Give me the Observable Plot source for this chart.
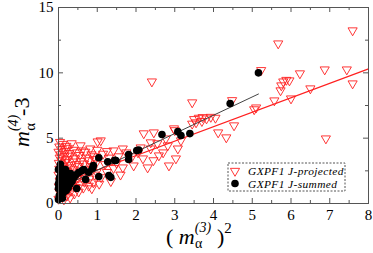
<!DOCTYPE html>
<html>
<head>
<meta charset="utf-8">
<script src="https://cdn.jsdelivr.net/npm/d3@7"></script>
<script src="https://cdn.jsdelivr.net/npm/@observablehq/plot@0.6"></script>
<style>
  html, body { margin: 0; padding: 0; background: #fff; }
  #chart { width: 373px; height: 253px; }
</style>
</head>
<body>
<div id="chart"></div>
<script>
// ---- data ----
const seriesNames = ["GXPF1 J-projected", "GXPF1 J-summed"];
const xTicks = [0, 1, 2, 3, 4, 5, 6, 7, 8];
const xMinor = [0.5, 1.5, 2.5, 3.5, 4.5, 5.5, 6.5, 7.5];
const yTicks = [0, 5, 10, 15];
const yMinor = [2.5, 7.5, 12.5];

// J-projected (red open triangles): [x, y]
const projected = [
  [7.59,13.24],[5.67,12.24],[2.41,9.33],[5.23,10.2],[6.23,9.95],[6.87,10.25],[7.44,10.25],[7.59,9.18],
  [5.80,9.33],[5.88,9.45],[5.96,9.41],[5.75,9.03],[5.73,8.65],[6.50,8.80],[6.0,8.03],[5.57,7.88],
  [5.10,7.34],[5.05,7.2],[6.9,4.97],[3.45,7.73],[4.48,7.9],[4.53,5.97],[3.5,6.45],[3.62,6.55],
  [3.72,6.6],[3.82,6.5],[3.93,6.62],[4.05,6.55],[3.55,6.2],[3.7,6.3],[3.45,6.1],[4.12,5.43],
  [4.33,5.05],[2.98,5.74],[3.0,5.6],[2.46,5.43],[2.2,5.36],[3.16,4.82],[2.77,4.97],[2.38,4.67],
  [2.55,4.6],[2.82,4.44],[3.08,4.2],[2.7,3.9],[2.38,4.2],[2.12,4.28],[1.66,4.2],[1.42,4.05],
  [1.25,4.0],[1.09,4.82],[2.18,3.44],[2.59,3.67],[2.45,3.3],[3.03,3.44],[2.3,2.75],[2.85,2.9],
  [1.94,2.9],[1.66,2.75],[1.42,2.7],[1.9,3.6],[1.75,3.9],[2.05,3.9],[1.55,3.6],[1.3,3.5],
  [1.15,3.8],[0.57,4.44],[1.01,4.74],[1.5,3.1],[1.25,2.4],[1.6,2.2],[1.1,2.0],[1.35,1.7],
  [1.05,1.5],[1.2,3.0],[0.95,3.4],
  [0.0,0.35],[0.02,0.9],[0.01,1.3],[0.03,1.75],[0.0,2.2],[0.02,2.65],[0.01,3.1],[0.03,3.5],
  [0.0,3.95],[0.02,4.35],[0.04,4.7],[0.07,0.55],[0.08,1.1],[0.06,1.55],[0.09,2.0],[0.07,2.4],
  [0.1,2.85],[0.08,3.3],[0.06,3.75],[0.09,4.15],[0.11,4.55],[0.14,0.3],[0.15,0.8],[0.17,1.35],
  [0.13,1.85],[0.16,2.25],[0.14,2.7],[0.18,3.15],[0.15,3.6],[0.17,4.0],[0.2,4.4],[0.22,0.6],
  [0.24,1.05],[0.21,1.6],[0.25,2.05],[0.23,2.5],[0.26,2.95],[0.22,3.4],[0.27,3.85],[0.24,4.25],
  [0.3,0.45],[0.32,0.95],[0.34,1.4],[0.31,1.9],[0.35,2.35],[0.33,2.75],[0.36,3.2],[0.3,3.65],
  [0.38,4.1],[0.34,4.6],[0.41,0.75],[0.44,1.25],[0.42,1.7],[0.46,2.15],[0.4,2.6],[0.45,3.0],
  [0.43,3.45],[0.48,3.9],[0.52,0.9],[0.55,1.45],[0.5,1.95],[0.57,2.4],[0.53,2.85],[0.58,3.25],
  [0.55,3.7],[0.6,4.05],[0.64,1.2],[0.67,1.65],[0.63,2.15],[0.7,2.6],[0.66,3.05],[0.72,3.5],
  [0.69,3.95],[0.78,1.35],[0.8,1.9],[0.76,2.35],[0.83,2.85],[0.79,3.3],[0.85,3.75],[0.82,4.2],
  [0.9,1.6],[0.93,2.2],[0.88,2.6],[0.96,3.05],[0.92,3.6],[1.0,4.1],[0.98,2.4],[0.86,1.15]
];

// J-summed (black filled circles): [x, y]
const summed = [
  [5.16,10.0],[4.43,7.65],[3.08,5.5],[3.16,5.2],[3.39,5.35],[2.67,5.28],[2.07,4.1],[2.02,4.05],
  [1.81,3.75],[1.81,3.37],[1.48,3.29],[1.27,3.2],[1.04,3.5],[1.45,3.3],[1.35,2.0],[1.04,2.07],
  [1.3,2.14],[0.88,2.7],[0.78,2.4],[0.7,1.84],[0.52,2.37],[0.47,1.15],[0.31,2.3],[0.6,2.5],
  [0.4,2.0],[0.35,1.7],[0.25,1.5],[0.2,2.0],[0.15,1.2],[0.1,1.76],[0.08,2.5],[0.05,1.0],
  [0.02,0.6],[0.0,1.15],[0.0,1.5],[0.03,2.0],[0.12,0.8],[0.2,1.0],[0.28,1.9],[0.45,2.2],
  [0.65,2.6],[0.9,2.9],[0.05,3.0],[0.0,2.6],[0.18,2.6],[0.1,0.4],[0.02,1.8],[0.06,2.3],
  [0.08,1.4],[0.15,1.7],[0.22,2.3],[0.05,2.8],[0.12,2.2],[0.25,1.2],[0.3,1.5],[0.0,0.3]
];

// fitted lines (endpoints)
const fitProjectedX = [0, 8];
const fitProjectedY = [1.45, 10.3];
const fitSummedX = [0, 5.16];
const fitSummedY = [1.15, 8.38];

// ---- build ----
const fitProjected = fitProjectedX.map((x, i) => ({x, y: fitProjectedY[i]}));
const fitSummed = fitSummedX.map((x, i) => ({x, y: fitSummedY[i]}));

const triDown = {
  draw(ctx, size) {
    const y = Math.sqrt(size / (Math.sqrt(3) * 3));
    const s3 = Math.sqrt(3);
    ctx.moveTo(0, 2 * y);
    ctx.lineTo(-s3 * y, -y);
    ctx.lineTo(s3 * y, -y);
    ctx.closePath();
  }
};

const W = 373, H = 253;
const mL = 58, mR = 5, mT = 7, mB = 50;
const fw = W - mL - mR, fh = H - mT - mB;
const tickCol = "#555";
const major = 5, minor = 3;
const red = "#ff2020";

const chart = Plot.plot({
  width: W,
  height: H,
  marginLeft: mL,
  marginRight: mR,
  marginTop: mT,
  marginBottom: mB,
  style: {fontFamily: "'Liberation Serif', 'DejaVu Serif', serif", fontSize: "15px", background: "#fff", color: "#000"},
  x: {domain: [0, 8]},
  y: {domain: [0, 15]},
  marks: [
    // tick labels
    Plot.axisX({ticks: xTicks, tickSize: 0, tickPadding: 6, label: null, tickFormat: d3.format("d"), fill: "#000"}),
    Plot.axisY({ticks: yTicks, tickSize: 0, tickPadding: 5, label: null, tickFormat: d3.format("d"), fill: "#000"}),
    // inward ticks on all four sides
    Plot.ruleX(xTicks, {x: d => d, insetTop: fh - major, stroke: tickCol}),
    Plot.ruleX(xMinor, {x: d => d, insetTop: fh - minor, stroke: tickCol}),
    Plot.ruleX(xTicks, {x: d => d, insetBottom: fh - major, stroke: tickCol}),
    Plot.ruleX(xMinor, {x: d => d, insetBottom: fh - minor, stroke: tickCol}),
    Plot.ruleY(yTicks, {y: d => d, insetRight: fw - major, stroke: tickCol}),
    Plot.ruleY(yMinor, {y: d => d, insetRight: fw - minor, stroke: tickCol}),
    Plot.ruleY(yTicks, {y: d => d, insetLeft: fw - major, stroke: tickCol}),
    Plot.ruleY(yMinor, {y: d => d, insetLeft: fw - minor, stroke: tickCol}),
    // data
    Plot.dot(projected, {x: d => d[0], y: d => d[1], symbol: triDown, r: 3.4, stroke: red, strokeWidth: 0.9, fill: "none"}),
    Plot.line(fitProjected, {x: "x", y: "y", stroke: red, strokeWidth: 1.2}),
    Plot.line(fitSummed, {x: "x", y: "y", stroke: "#444", strokeWidth: 1}),
    Plot.dot(summed, {x: d => d[0], y: d => d[1], r: 3.8, fill: "#000", stroke: "none"}),
    Plot.frame({stroke: tickCol, strokeWidth: 1})
  ]
});

document.getElementById("chart").appendChild(chart);

// ---- axis titles & legend added into the same SVG ----
const svg = d3.select(chart);
const serif = "'Liberation Serif', 'DejaVu Serif', serif";

// y title: m^(4)_alpha - 3, rotated
const yt = svg.append("text")
  .attr("transform", "translate(29,147) rotate(-90)")
  .attr("text-anchor", "start")
  .attr("font-family", serif).attr("font-size", 22).attr("fill", "#000");
yt.append("tspan").attr("font-style", "italic").text("m");
yt.append("tspan").attr("font-size", 14).attr("font-style", "italic").attr("dy", -11).text("(4)");
yt.append("tspan").attr("font-size", 15).attr("dx", -16).attr("dy", 17).text("α");
yt.append("tspan").attr("dx", 7).attr("dy", -6).text("-3");

// x title: ( m^(3)_alpha )^2
const xt = svg.append("text")
  .attr("x", 166).attr("y", 244)
  .attr("text-anchor", "start")
  .attr("font-family", serif).attr("font-size", 22).attr("fill", "#000");
xt.append("tspan").text("( ");
xt.append("tspan").attr("font-style", "italic").text("m");
xt.append("tspan").attr("font-size", 14).attr("font-style", "italic").attr("dy", -12).text("(3)");
xt.append("tspan").attr("font-size", 14).attr("dx", -16).attr("dy", 16).text("α");
xt.append("tspan").attr("dx", 9).attr("dy", -4).text(" )");
xt.append("tspan").attr("font-size", 15).attr("dy", -11).text("2");

// legend
const lg = svg.append("g");
lg.append("rect").attr("x", 228).attr("y", 163).attr("width", 117).attr("height", 28)
  .attr("fill", "#fff").attr("stroke", "#555").attr("stroke-dasharray", "2,1.5").attr("stroke-width", 1);
const triPath = d3.symbol(triDown, Math.PI * 3.4 * 3.4)();
lg.append("path").attr("d", triPath).attr("transform", "translate(235,171)")
  .attr("fill", "none").attr("stroke", red).attr("stroke-width", 0.9);
lg.append("circle").attr("cx", 235).attr("cy", 183.5).attr("r", 3.8).attr("fill", "#000");
seriesNames.forEach((name, i) => {
  lg.append("text").attr("x", 248).attr("y", 174.5 + i * 13.3)
    .attr("text-anchor", "start")
    .attr("font-family", serif).attr("font-style", "italic").attr("font-size", 11.4)
    .attr("letter-spacing", 0.4)
    .attr("fill", "#000").text(name);
});
</script>
</body>
</html>
